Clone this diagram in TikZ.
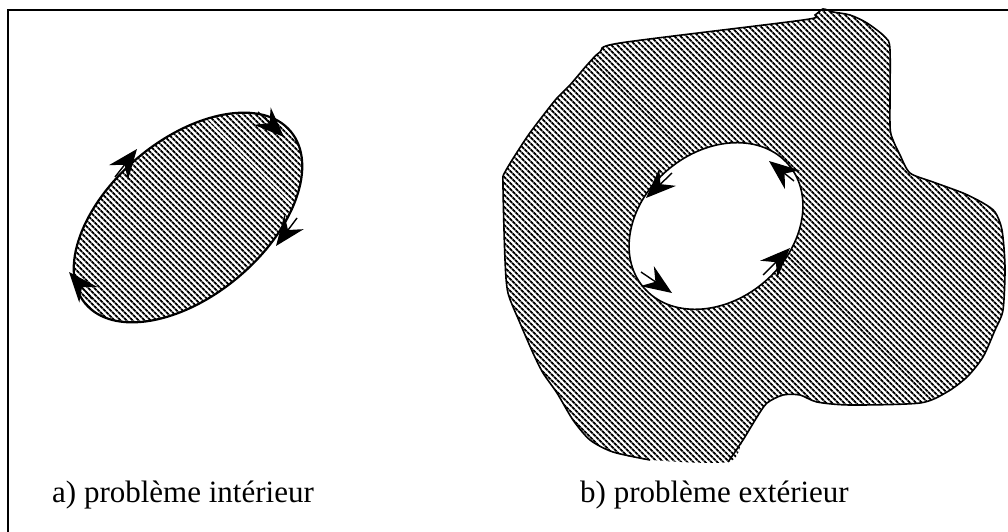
\documentclass[tikz,border=0pt]{standalone}
\usepackage{fontspec}
\setmainfont{Liberation Serif}
\usetikzlibrary{patterns.meta,arrows.meta}
\begin{document}
\begin{tikzpicture}[x=1pt,y=-1pt,
  hatch/.style={pattern={Lines[angle=-45,distance=4pt,line width=2pt]},pattern color=black},
  tipsty/.style={-{Stealth[length=30pt,width=24pt,inset=10pt]},line width=1.4pt},
  lbl/.style={anchor=base west,inner sep=0pt,font=\fontsize{31}{36}\selectfont}]
\useasboundingbox (0,0) rectangle (1008,532);
% frame
\draw[line width=2pt] (8,532) -- (8,10) -- (1008,10);
% a) interior
\begin{scope}[shift={(188,217.5)},rotate=40]
  \fill[hatch] (0,0) ellipse[x radius=134,y radius=78];
  \draw[line width=2.2pt] (0,0) ellipse[x radius=134,y radius=78];
\end{scope}
\coordinate (a1t) at (137,149); \coordinate (a1s) at (115,177);
\coordinate (a2t) at (284,137); \coordinate (a2s) at (258,112);
\coordinate (a3t) at (276,246); \coordinate (a3s) at (297,218);
\coordinate (a4t) at (69,272);  \coordinate (a4s) at (92,299);
\draw[tipsty] (a1s) -- (a1t);
\draw[tipsty] (a2s) -- (a2t);
\draw[tipsty] (a3s) -- (a3t);
\draw[tipsty] (a4s) -- (a4t);
% b) exterior
\fill[hatch] plot[smooth cycle,tension=0.45] coordinates {
 (728,462) (743,440) (757,417) (767,403) (783,395) (800,395) (817,402) (850,405)
 (920,403) (947,392) (967,377) (983,357) (995,330) (1003,310) (1005,267) (1002,230)
 (995,212) (983,203) (963,193) (933,182) (910,173) (900,155) (893,140) (890,125)
 (890,50) (885,37) (867,23) (850,15) (833,12) (823,9) (815,15) (803,20) (620,43)
 (600,52) (587,65) (570,85) (557,98) (545,113) (527,137) (505,172) (503,185)
 (505,260) (508,293) (520,323) (533,353) (543,373) (557,393) (573,420) (590,440)
 (613,452) (650,460)};
\draw[line width=1.6pt] plot[smooth,tension=0.45] coordinates {
 (728,462) (743,440) (757,417) (767,403) (783,395) (800,395) (817,402) (850,405)
 (920,403) (947,392) (967,377) (983,357) (995,330) (1003,310) (1005,267) (1002,230)
 (995,212) (983,203) (963,193) (933,182) (910,173) (900,155) (893,140) (890,125)
 (890,50) (885,37) (867,23) (850,15) (833,12) (823,9) (815,15) (803,20) (620,43)
 (600,52) (587,65) (570,85) (557,98) (545,113) (527,137) (505,172) (503,185)
 (505,260) (508,293) (520,323) (533,353) (543,373) (557,393) (573,420) (590,440)
 (613,452) (650,460)};
\begin{scope}[shift={(716,226)},rotate=40]
  \fill[white] (0,0) ellipse[x radius=95,y radius=74];
  \draw[line width=1.6pt] (0,0) ellipse[x radius=95,y radius=74];
\end{scope}
\coordinate (b1t) at (769,161); \coordinate (b1s) at (794,181);
\coordinate (b2t) at (646,198); \coordinate (b2s) at (672,173);
\coordinate (b3t) at (672,293); \coordinate (b3s) at (641,272);
\coordinate (b4t) at (790,248); \coordinate (b4s) at (763,275);
\draw[tipsty] (b1s) -- (b1t);
\draw[tipsty] (b2s) -- (b2t);
\draw[tipsty] (b3s) -- (b3t);
\draw[tipsty] (b4s) -- (b4t);
% labels
\node[lbl] (la) at (52,502) {a) problème intérieur};
\node[lbl] (lb) at (580,502) {b) problème extérieur};
\end{tikzpicture}
\end{document}
